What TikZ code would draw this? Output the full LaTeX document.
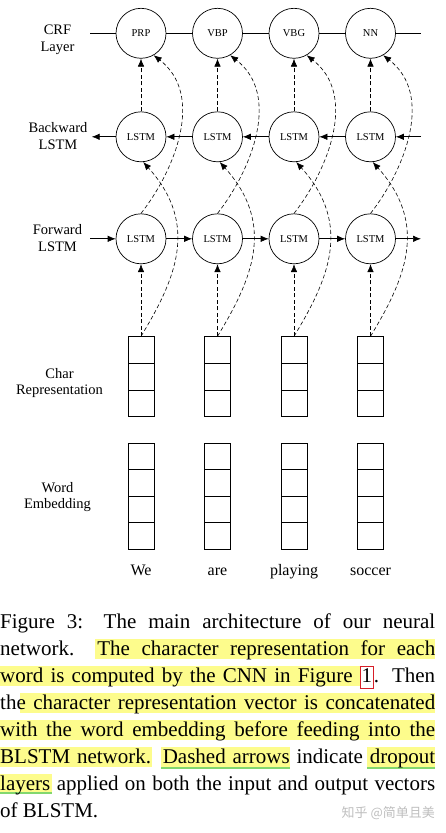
\documentclass[tikz,border=0pt]{standalone}
\usepackage{fontspec}
\setmainfont{Liberation Serif}
\newfontfamily\cjkfont{Noto Sans CJK SC}
\usetikzlibrary{arrows.meta}

\definecolor{hlyellow}{RGB}{253,252,140}
\definecolor{hlgreen}{RGB}{130,215,110}
\definecolor{refred}{RGB}{215,30,40}
\definecolor{markgray}{RGB}{190,190,190}

\newcommand{\tagfont}{\fontsize{10.5}{12}\selectfont}
\newcommand{\figrefbox}[1]{{\setlength{\fboxsep}{1pt}\setlength{\fboxrule}{0.8pt}\fcolorbox{refred}{white}{\vphantom{Fg}#1}}}

\tikzset{
	unit/.style={draw, circle, minimum size=50pt, inner sep=0pt, line width=0.7pt, font=\tagfont},
	rowlabel/.style={align=center, inner sep=0pt, font=\fontsize{14.5}{16.5}\selectfont},
	vecbox/.style={draw, minimum width=26pt, inner sep=0pt, line width=0.7pt},
	flow/.style={-{Latex[length=8pt,width=6.5pt]}, line width=0.7pt},
	dropout/.style={-{Latex[length=8pt,width=6.5pt]}, dash pattern=on 4pt off 2.5pt, line width=0.6pt},
	capline/.style={anchor=base west, inner sep=0pt, font=\fontsize{21}{27}\selectfont},
}

\begin{document}
\begin{tikzpicture}[x=1pt, y=-1pt]
	\useasboundingbox (0,0) rectangle (446,833);

	% row labels
	\node[rowlabel] (lcrf) at (57.5,40) {CRF\\Layer};
	\node[rowlabel] (lbw) at (58,136) {Backward\\LSTM};
	\node[rowlabel] (lfw) at (57.5,238) {Forward\\LSTM};
	\node[rowlabel] (lch) at (59.5,383) {Char\\Representation};
	\node[rowlabel] (lwe) at (57.5,497) {Word\\Embedding};

	\coordinate (crfleft) at (90,33.3);
	\coordinate (crfright) at (421,33.3);
	\coordinate (bwstart) at (421,136.8);
	\coordinate (bwend) at (91.7,136.8);
	\coordinate (fwstart) at (90,238.8);
	\coordinate (fwend) at (421,238.8);

	\foreach \i/\x/\tag/\word in {1/141/PRP/We, 2/217.5/VBP/are, 3/294/VBG/playing, 4/370.5/NN/soccer}
	{
		\node[unit] (crf\i) at (\x,33.3) {\tag};
		\node[unit] (bw\i) at (\x,136.8) {LSTM};
		\node[unit] (fw\i) at (\x,238.8) {LSTM};
		\node[vecbox, minimum height=80pt] (ch\i) at (\x,376.7) {};
		\node[vecbox, minimum height=106pt] (we\i) at (\x,496) {};
		\foreach \k in {1,2}
			\draw[line width=0.7pt] (\x-13,336.7+26.67*\k) -- (\x+13,336.7+26.67*\k);
		\foreach \k in {1,2,3}
			\draw[line width=0.7pt] (\x-13,443+26.5*\k) -- (\x+13,443+26.5*\k);
		\node[anchor=base, inner sep=0pt, font=\fontsize{16}{18}\selectfont] (w\i) at (\x,575) {\word};

		% dropout on input and output
		\draw[dropout] (ch\i.north) -- (fw\i.south);
		\draw[dropout] (bw\i.north) -- (crf\i.south);
		\draw[dropout] (ch\i.north) .. controls (\x+34,280) and (\x+59,225) .. (bw\i.-85);
		\draw[dropout] (fw\i.north) .. controls (\x+34,170) and (\x+64,95) .. (crf\i.-60);
	}

	\draw[line width=0.7pt] (crfleft) -- (crf1);
	\draw[line width=0.7pt] (crf4) -- (crfright);
	\draw[flow] (fwstart) -- (fw1);
	\draw[flow] (fw4) -- (fwend);
	\draw[flow] (bwstart) -- (bw4);
	\draw[flow] (bw1) -- (bwend);
	\foreach \i/\j in {1/2, 2/3, 3/4}
	{
		\draw[line width=0.7pt] (crf\i) -- (crf\j);
		\draw[flow] (fw\i) -- (fw\j);
		\draw[flow] (bw\j) -- (bw\i);
	}

	% caption highlights
	\foreach \xa/\xb/\b in {95/435/655, 0/362/682, 20/435/709, 0/435/736, 0/152/763, 161/290/763, 367/435/763, 0/52/790}
		\fill[hlyellow] (\xa,\b-16) rectangle (\xb,\b+4);
	\foreach \xa/\xb/\b in {161/290/768, 367/435/768, 0/52/793}
		\draw[hlgreen, line width=1.3pt] (\xa,\b) -- (\xb,\b);

	% caption
	\node[capline] (cap1) at (0,628) {\hbox to 435pt{Figure 3: The main architecture of our neural}};
	\node[capline] (cap2) at (0,655) {\hbox to 435pt{network.\ \ The character representation for each}};
	\node[capline] (cap3) at (0,682) {\hbox to 435pt{word is computed by the CNN in Figure \figrefbox{1}. Then}};
	\node[capline] (cap4) at (0,709) {\hbox to 435pt{the character representation vector is concatenated}};
	\node[capline] (cap5) at (0,736) {\hbox to 435pt{with the word embedding before feeding into the}};
	\node[capline] (cap6) at (0,763) {\hbox to 435pt{BLSTM network. Dashed arrows indicate dropout}};
	\node[capline] (cap7) at (0,790) {\hbox to 435pt{layers applied on both the input and output vectors}};
	\node[capline] (cap8) at (0,817) {of BLSTM.};

	\node[anchor=east, inner sep=0pt, text=markgray, font=\cjkfont\fontsize{13}{13}\selectfont] (mark) at (435,813) {知乎 @简单且美};
\end{tikzpicture}
\end{document}
